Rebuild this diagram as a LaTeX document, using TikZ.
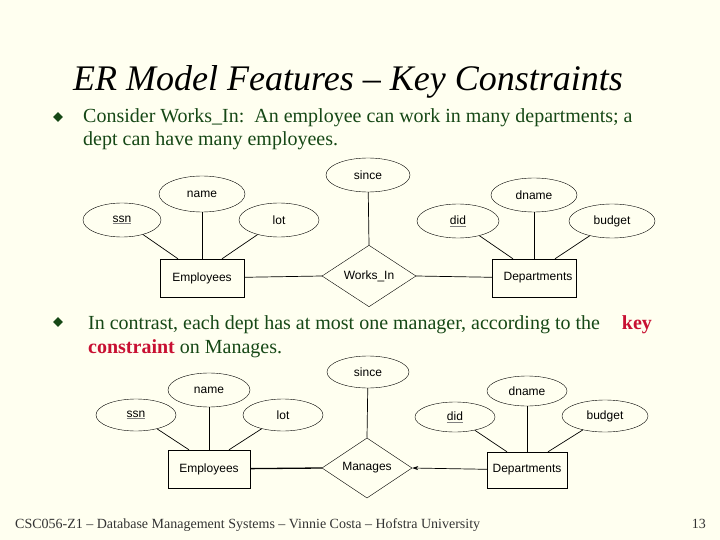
\documentclass[tikz,border=0pt]{standalone}
\usepackage{fontspec}
\setmainfont{Liberation Serif}
\setsansfont{Liberation Sans}
\usetikzlibrary{shapes.geometric, arrows.meta, positioning}
\definecolor{slidebg}{RGB}{255,255,240}
\definecolor{bodygreen}{RGB}{22,72,22}
\definecolor{keyred}{RGB}{200,16,50}
\newcommand{\keyattr}[1]{\textcolor{gray}{\underline{\textcolor{black}{#1}}}}

\begin{document}
\begin{tikzpicture}[
    x=1pt, y=-1pt,
    attr/.style={draw, ellipse, minimum width=82pt, minimum height=34pt, inner sep=0pt, font=\sffamily\fontsize{12}{14}\selectfont},
    entity/.style={draw, rectangle, minimum width=84pt, minimum height=38pt, inner sep=0pt, font=\sffamily\fontsize{12}{14}\selectfont},
    rel/.style={draw, diamond, minimum width=94pt, minimum height=58pt, inner sep=0pt, font=\sffamily\fontsize{12}{14}\selectfont},
    bullet/.style={diamond, fill=bodygreen, minimum size=10pt, inner sep=0pt},
    body/.style={anchor=base west, inner sep=0pt, text=bodygreen, font=\fontsize{20}{24}\selectfont},
    link/.style={line width=0.7pt}
]
    \fill[slidebg] (0,0) rectangle (720,540);

    % title and bullets
    \node[anchor=base west, inner sep=0pt, font=\itshape\fontsize{36}{40}\selectfont] (title) at (73,91) {ER Model Features -- Key Constraints};
    \node[bullet] (b1) at (58,117) {};
    \node[body] (t1) at (83,123) {Consider Works\_In:\ \ An employee can work in many departments; a};
    \node[body] (t2) at (83,146) {dept can have many employees.};
    \node[bullet] (b2) at (58,322) {};
    \node[body] (t3) at (88,329) {In contrast, each dept has at most one manager, according to the\hspace{22pt}\textcolor{keyred}{\textbf{key}}};
    \node[body] (t4) at (88,353) {\textcolor{keyred}{\textbf{constraint}} on Manages.};

    % Works_In
    \node[entity] (emp1) at (202,278) {Employees};
    \node[entity] (dept1) at (534,278) {\hspace{8pt}Departments};
    \node[rel] (works) at (369,276) {Works\_In};
    \node[attr, minimum width=78pt] (ssn1) at (122,220) {\keyattr{ssn}};
    \node[attr, minimum width=86pt, minimum height=36pt] (name1) at (202,194) {name};
    \node[attr, minimum width=80pt] (lot1) at (279,220) {lot};
    \node[attr, minimum width=84pt] (since1) at (368,175) {since};
    \node[attr, minimum width=82pt] (did1) at (458,221) {\keyattr{did}};
    \node[attr, minimum width=86pt] (dname1) at (534,195) {dname};
    \node[attr, minimum width=86pt] (budget1) at (612,221) {budget};

    \draw[link] (ssn1) -- ([xshift=-24pt]emp1.north);
    \draw[link] (name1) -- (emp1.north);
    \draw[link] (lot1) -- ([xshift=20pt]emp1.north);
    \draw[link] (did1) -- ([xshift=-21pt]dept1.north);
    \draw[link] (dname1) -- (dept1.north);
    \draw[link] (budget1) -- ([xshift=21pt]dept1.north);
    \draw[link] (since1) -- (works.north);
    \draw[link] (emp1) -- (works.west);
    \draw[link] (works.east) -- (dept1);

    % Manages
    \node[entity, minimum width=82pt] (emp2) at (209,469) {Employees};
    \node[entity, minimum width=80pt, minimum height=36pt] (dept2) at (527,470) {Departments};
    \node[rel, minimum width=90pt] (manages) at (367,468) {Manages};
    \node[attr, minimum width=80pt, minimum height=32pt] (ssn2) at (136,415) {\keyattr{ssn}};
    \node[attr] (name2) at (209,390) {name};
    \node[attr, minimum width=80pt, minimum height=32pt] (lot2) at (283,415) {lot};
    \node[attr, minimum height=32pt] (since2) at (368,372) {since};
    \node[attr, minimum width=80pt, minimum height=30pt] (did2) at (455,417) {\keyattr{did}};
    \node[attr, minimum width=80pt, minimum height=30pt] (dname2) at (527,391) {dname};
    \node[attr, minimum width=86pt, minimum height=32pt] (budget2) at (605,416) {budget};

    \draw[link] (ssn2) -- ([xshift=-20pt]emp2.north);
    \draw[link] (name2) -- (emp2.north);
    \draw[link] (lot2) -- ([xshift=20pt]emp2.north);
    \draw[link] (did2) -- ([xshift=-20pt]dept2.north);
    \draw[link] (dname2) -- (dept2.north);
    \draw[link] (budget2) -- ([xshift=21pt]dept2.north);
    \draw[link] (since2) -- (manages.north);
    \draw[line width=1.3pt] (emp2) -- (manages.west);
    \draw[link, -{Stealth[length=6pt, width=4pt]}] (dept2) -- (manages.east);

    % footer
    \node[anchor=base west, inner sep=0pt, text=black!80, font=\fontsize{14}{16}\selectfont] (footer) at (15,528) {CSC056-Z1 -- Database Management Systems -- Vinnie Costa -- Hofstra University};
    \node[anchor=base east, inner sep=0pt, text=black!80, font=\fontsize{14}{16}\selectfont] (page) at (706,528) {13};
\end{tikzpicture}
\end{document}
